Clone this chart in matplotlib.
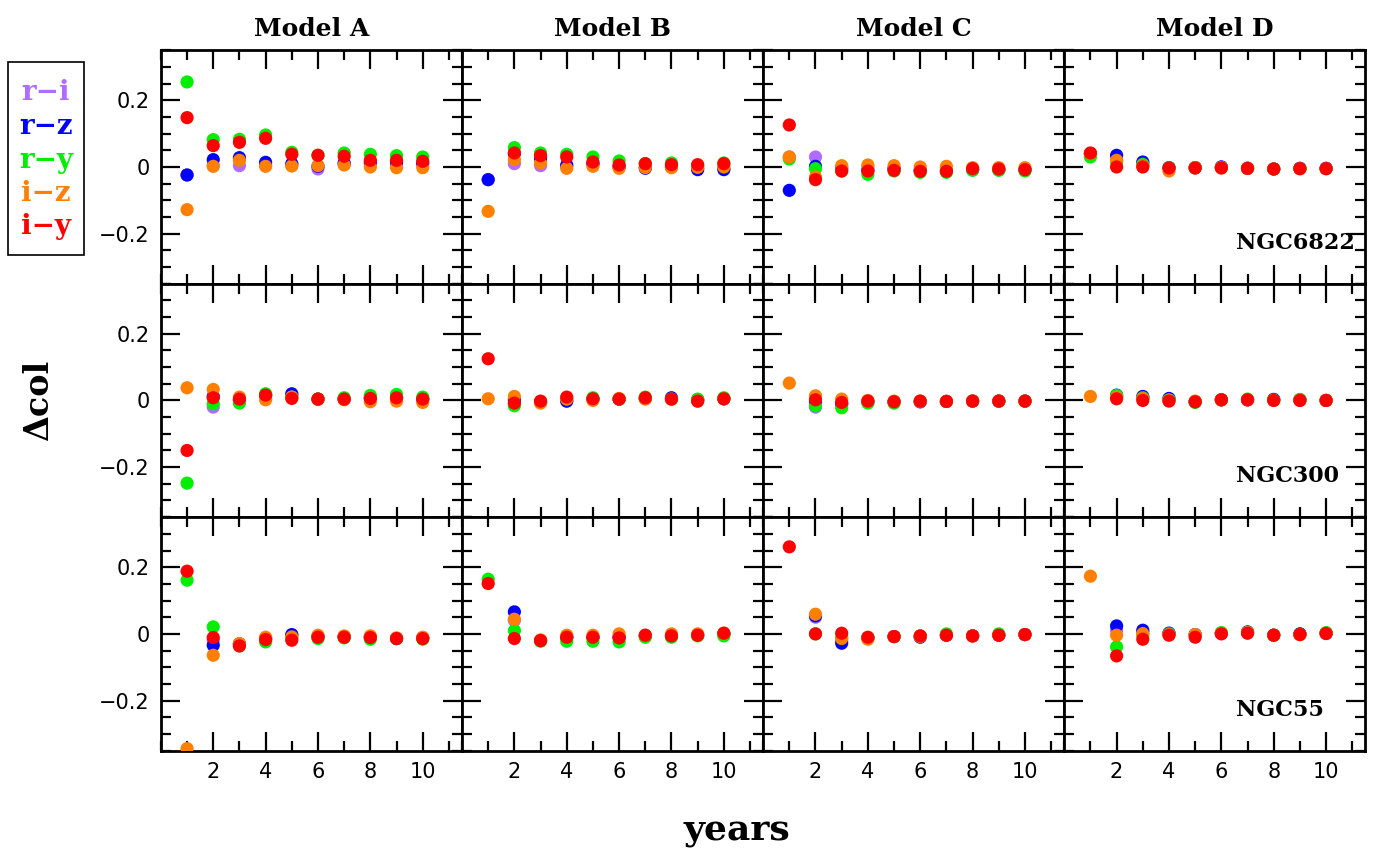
import numpy as np
import matplotlib
matplotlib.use("Agg")
import matplotlib.pyplot as plt
from matplotlib.ticker import MultipleLocator, FuncFormatter
from matplotlib.patches import Rectangle

nan = np.nan
years = [1, 2, 3, 4, 5, 6, 7, 8, 9, 10]
models = ["Model A", "Model B", "Model C", "Model D"]
galaxies = ["NGC6822", "NGC300", "NGC55"]
colors = ["r−i", "r−z", "r−y", "i−z", "i−y"]
color_codes = ["#b06cff", "#0000ff", "#00ee00", "#ff8000", "#ff0000"]

# each panel: rows are r-i, r-z, r-y, i-z, i-y
ngc6822_a = [
    [-0.024, 0.005, 0.004, 0.005, 0.005, -0.006, 0.008, 0.010, 0.008, 0.006],
    [-0.024, 0.022, 0.028, 0.014, 0.010, 0.002, 0.012, 0.015, 0.014, 0.012],
    [0.255, 0.082, 0.083, 0.096, 0.044, 0.035, 0.042, 0.038, 0.034, 0.030],
    [-0.128, 0.002, 0.020, 0.002, 0.003, 0.004, 0.006, 0.000, -0.002, -0.002],
    [0.148, 0.064, 0.074, 0.086, 0.038, 0.035, 0.032, 0.020, 0.020, 0.017],
]
ngc6822_b = [
    [-0.038, 0.010, 0.004, 0.002, 0.008, 0.002, 0.000, 0.000, -0.004, -0.004],
    [-0.038, 0.040, 0.025, 0.006, 0.010, 0.000, -0.004, 0.000, -0.008, -0.008],
    [nan, 0.058, 0.042, 0.038, 0.030, 0.018, 0.010, 0.012, 0.005, 0.012],
    [-0.133, 0.022, 0.012, -0.004, 0.002, -0.004, -0.002, -0.002, -0.001, 0.000],
    [nan, 0.042, 0.034, 0.030, 0.015, 0.006, 0.010, 0.007, 0.007, 0.010],
]
ngc6822_c = [
    [0.030, 0.030, 0.000, 0.000, -0.005, -0.010, -0.010, -0.008, -0.008, -0.008],
    [-0.070, 0.002, -0.005, -0.010, -0.005, -0.010, -0.012, -0.008, -0.008, -0.008],
    [0.024, -0.005, -0.012, -0.022, -0.012, -0.016, -0.016, -0.010, -0.010, -0.012],
    [0.030, -0.030, 0.004, 0.006, 0.004, 0.000, 0.002, -0.002, -0.002, -0.002],
    [0.126, -0.038, -0.012, -0.012, -0.010, -0.013, -0.013, -0.005, -0.006, -0.008],
]
ngc6822_d = [
    [0.040, 0.020, 0.010, -0.002, -0.002, 0.000, -0.004, -0.006, -0.004, -0.004],
    [0.040, 0.035, 0.015, -0.002, -0.002, 0.000, -0.004, -0.006, -0.004, -0.004],
    [0.030, 0.015, 0.008, -0.002, -0.002, -0.002, -0.004, -0.006, -0.005, -0.005],
    [0.040, 0.020, 0.003, -0.012, -0.002, -0.002, -0.004, -0.006, -0.005, -0.005],
    [0.042, 0.000, 0.000, -0.003, -0.003, -0.003, -0.004, -0.006, -0.005, -0.005],
]
ngc300_a = [
    [nan, -0.020, 0.000, 0.015, 0.015, 0.004, 0.004, 0.008, 0.008, 0.004],
    [nan, 0.012, 0.002, 0.015, 0.020, 0.004, 0.004, 0.008, 0.008, 0.004],
    [-0.248, -0.010, -0.008, 0.020, 0.010, 0.004, 0.008, 0.015, 0.018, 0.010],
    [0.038, 0.033, 0.010, 0.002, 0.010, 0.004, 0.002, -0.004, -0.002, -0.006],
    [-0.150, 0.008, 0.004, 0.016, 0.006, 0.004, 0.004, 0.006, 0.008, 0.004],
]
ngc300_b = [
    [nan, -0.010, -0.005, -0.002, 0.004, 0.004, 0.006, 0.006, 0.002, 0.005],
    [nan, 0.002, -0.005, -0.002, 0.004, 0.004, 0.006, 0.008, 0.002, 0.005],
    [nan, -0.016, -0.004, 0.005, 0.008, 0.004, 0.010, 0.004, 0.004, 0.008],
    [0.005, 0.012, -0.008, 0.004, 0.000, 0.006, 0.004, 0.004, -0.002, 0.005],
    [0.125, -0.008, -0.002, 0.010, 0.005, 0.004, 0.008, 0.004, -0.002, 0.005],
]
ngc300_c = [
    [nan, -0.020, -0.012, -0.004, -0.004, -0.004, -0.003, -0.002, -0.002, -0.002],
    [nan, -0.005, -0.010, -0.004, -0.004, -0.004, -0.003, -0.002, -0.002, -0.002],
    [nan, -0.016, -0.022, -0.008, -0.008, -0.003, -0.003, -0.002, -0.002, -0.002],
    [0.052, 0.014, 0.004, 0.000, -0.002, -0.002, -0.003, -0.002, -0.002, -0.002],
    [nan, 0.002, -0.006, -0.002, -0.004, -0.002, -0.003, -0.002, -0.002, -0.002],
]
ngc300_d = [
    [nan, 0.012, 0.008, 0.004, -0.004, 0.002, 0.002, 0.003, 0.002, 0.000],
    [nan, 0.016, 0.012, 0.006, -0.004, 0.002, 0.002, 0.003, 0.002, 0.000],
    [nan, 0.015, 0.008, 0.002, -0.006, 0.002, 0.004, 0.001, 0.003, 0.000],
    [0.012, 0.010, 0.006, 0.000, -0.002, 0.002, 0.002, 0.000, 0.000, 0.000],
    [nan, 0.005, 0.000, -0.002, -0.004, 0.002, 0.002, 0.000, 0.000, 0.000],
]
ngc55_a = [
    [nan, -0.020, -0.030, -0.015, -0.004, -0.008, -0.008, -0.010, -0.014, -0.012],
    [nan, -0.034, -0.030, -0.015, -0.002, -0.008, -0.008, -0.010, -0.014, -0.012],
    [0.161, 0.021, -0.036, -0.024, -0.014, -0.014, -0.012, -0.016, -0.014, -0.016],
    [-0.344, -0.064, -0.029, -0.010, -0.009, -0.004, -0.006, -0.006, -0.012, -0.010],
    [0.188, -0.011, -0.036, -0.017, -0.019, -0.010, -0.010, -0.011, -0.014, -0.014],
]
ngc55_b = [
    [nan, 0.040, -0.020, -0.010, -0.010, -0.010, -0.006, -0.006, -0.004, 0.000],
    [nan, 0.066, -0.020, -0.010, -0.010, -0.010, -0.006, -0.006, -0.004, 0.000],
    [0.164, 0.010, -0.022, -0.022, -0.022, -0.024, -0.010, -0.010, -0.006, -0.006],
    [nan, 0.044, -0.018, -0.004, -0.004, 0.000, -0.004, 0.000, 0.000, 0.002],
    [0.151, -0.014, -0.020, -0.010, -0.010, -0.012, -0.004, -0.006, -0.004, 0.002],
]
ngc55_c = [
    [nan, 0.050, -0.020, -0.012, -0.008, -0.008, -0.004, -0.006, -0.004, -0.002],
    [nan, 0.054, -0.028, -0.012, -0.008, -0.010, -0.004, -0.006, -0.004, -0.002],
    [nan, 0.000, -0.010, -0.012, -0.008, -0.006, 0.000, -0.006, 0.000, -0.002],
    [nan, 0.059, -0.014, -0.016, -0.008, -0.008, -0.004, -0.006, -0.004, -0.002],
    [0.261, 0.000, 0.002, -0.010, -0.008, -0.006, -0.004, -0.006, -0.004, -0.002],
]
ngc55_d = [
    [nan, 0.010, 0.006, 0.002, -0.002, 0.002, 0.004, -0.004, 0.000, 0.002],
    [nan, 0.024, 0.011, 0.002, -0.002, 0.002, 0.006, -0.004, 0.000, 0.002],
    [nan, -0.039, -0.004, 0.000, -0.004, 0.004, 0.004, -0.004, -0.002, 0.004],
    [0.173, -0.004, 0.001, -0.002, -0.002, 0.002, 0.004, -0.004, -0.002, 0.002],
    [nan, -0.066, -0.016, -0.004, -0.010, 0.000, 0.002, -0.004, -0.002, 0.001],
]

panels = [
    [ngc6822_a, ngc6822_b, ngc6822_c, ngc6822_d],
    [ngc300_a, ngc300_b, ngc300_c, ngc300_d],
    [ngc55_a, ngc55_b, ngc55_c, ngc55_d],
]

serif = ["DejaVu Serif"]
fig, axes = plt.subplots(3, 4, figsize=(13.75, 8.52), dpi=100, sharex=True, sharey=True)
fig.subplots_adjust(left=0.117, right=0.993, top=0.941, bottom=0.119, wspace=0, hspace=0)

yfmt = FuncFormatter(lambda v, p: "0" if abs(v) < 1e-9 else f"{v:.1f}".replace("-", "−"))

for r in range(3):
    for c in range(4):
        ax = axes[r, c]
        for k in range(5):
            ax.scatter(years, panels[r][c][k], s=90, color=color_codes[k],
                       edgecolors="none", zorder=3 + k)
        ax.set_xlim(0, 11.5)
        ax.set_ylim(-0.35, 0.35)
        ax.xaxis.set_major_locator(MultipleLocator(2))
        ax.xaxis.set_minor_locator(MultipleLocator(1))
        ax.yaxis.set_major_locator(MultipleLocator(0.2))
        ax.yaxis.set_minor_locator(MultipleLocator(0.05))
        ax.yaxis.set_major_formatter(yfmt)
        ax.tick_params(which="both", direction="in", top=True, right=True,
                       labelsize=15, width=1.6, pad=8)
        ax.tick_params(which="major", length=14)
        ax.tick_params(which="minor", length=7)
        for sp in ax.spines.values():
            sp.set_linewidth(2)
        if r == 0:
            ax.set_title(models[c], fontsize=18, fontweight="bold", family=serif, pad=10)
        if c == 3:
            ax.text(0.57, 0.175, galaxies[r], transform=ax.transAxes, ha="left",
                    va="center", fontsize=16, fontweight="bold", family=serif)

axes[0, 0].set_xticks([2, 4, 6, 8, 10])

fig.text(0.536, 0.025, "years", ha="center", va="center", fontsize=26,
         fontweight="bold", family=serif)
fig.text(0.028, 0.53, "Δcol", ha="center", va="center", rotation=90, fontsize=24,
         fontweight="bold", family=serif)

# legend box
fig.patches.append(Rectangle((8 / 1375, 1 - 255 / 852), 76 / 1375, 193 / 852,
                             transform=fig.transFigure, fill=False, lw=1.2,
                             edgecolor="black"))
for k, name in enumerate(colors):
    fig.text(46 / 1375, 1 - (93 + k * 33.5) / 852, name, color=color_codes[k],
             ha="center", va="center", fontsize=20, fontweight="bold", family=serif)

fig.savefig("out.png", dpi=100)
